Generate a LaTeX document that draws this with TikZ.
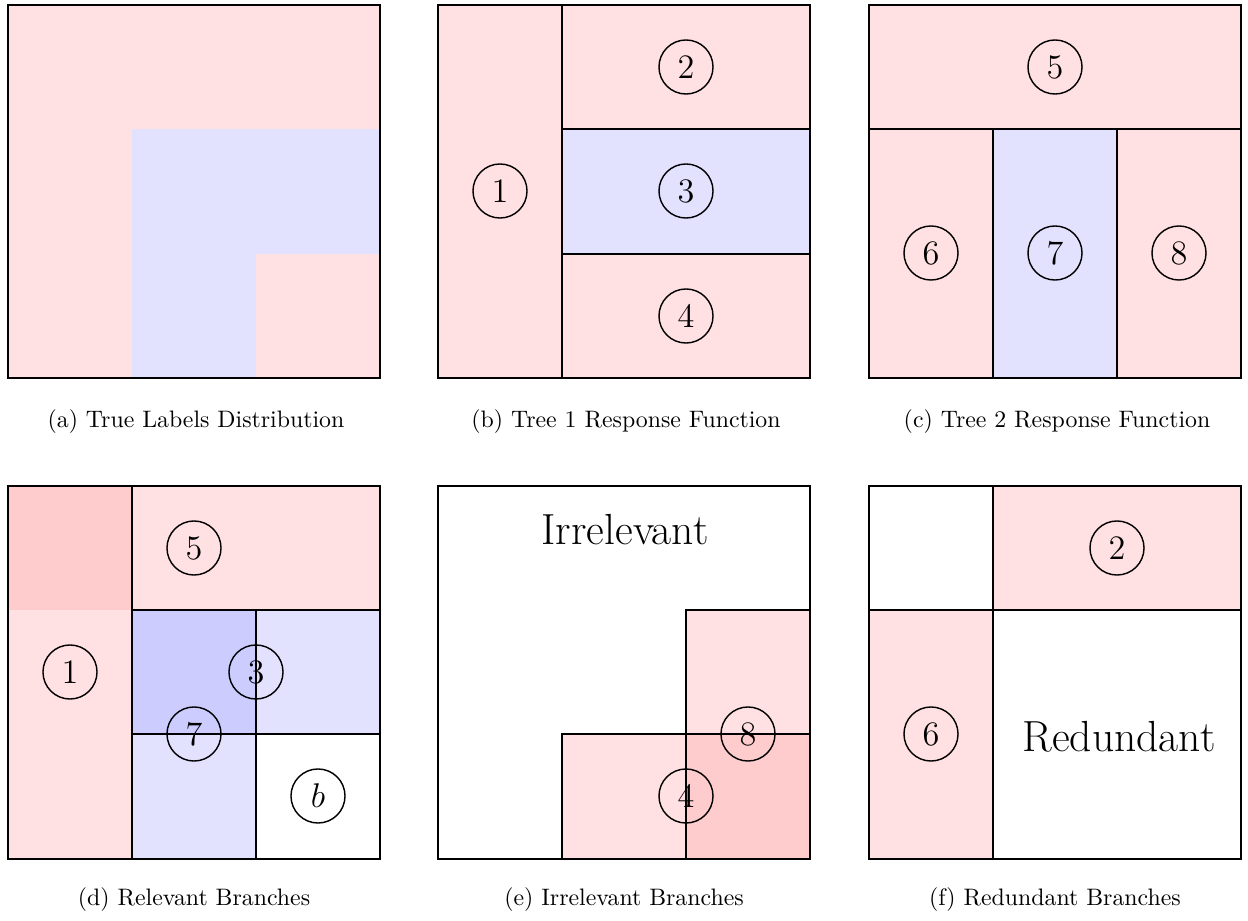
\documentclass[tikz,border=0pt]{standalone}
\begin{document}
\begin{tikzpicture}[x=0.42pt,y=-0.42pt,
  outerline/.style={draw=black,line width=0.9pt},
  innerline/.style={draw=black,line width=0.6pt},
  thinline/.style={draw=black,line width=0.45pt},
  num/.style={circle,draw=black,line width=0.6pt,minimum size=22.7pt,inner sep=0pt,font=\Large},
  captxt/.style={inner sep=0pt,font=\normalsize},
  bigtxt/.style={inner sep=0pt,font=\fontsize{18.3}{22}\selectfont}]
\definecolor{pinkf}{RGB}{255,225,228}
\definecolor{pinkd}{RGB}{255,204,206}
\definecolor{bluef}{RGB}{226,226,255}
\definecolor{blued}{RGB}{204,204,255}
\useasboundingbox (0,0) rectangle (1248,921);
% (a)
\fill[pinkf] (8,5) rectangle (380,378);
\fill[bluef] (132,129) rectangle (380,378);
\fill[pinkf] (256,254) rectangle (380,378);
\draw[outerline] (8,5) rectangle (380,378);
\node[captxt] (capa) at (196,422) {(a) True Labels Distribution};
% (b)
\fill[pinkf] (438,5) rectangle (810,378);
\fill[bluef] (562,129) rectangle (810,254);
\draw[innerline] (562,5) -- (562,378) (562,129) -- (810,129) (562,254) -- (810,254);
\draw[outerline] (438,5) rectangle (810,378);
\node[num] (b1) at (500,191) {1};
\node[num] (b2) at (686,67) {2};
\node[num] (b3) at (686,191) {3};
\node[num] (b4) at (686,316) {4};
\node[captxt] (capb) at (626,422) {(b) Tree 1 Response Function};
% (c)
\fill[pinkf] (869,5) rectangle (1241,378);
\fill[bluef] (993,129) rectangle (1117,378);
\draw[innerline] (869,129) -- (1241,129) (993,129) -- (993,378) (1117,129) -- (1117,378);
\draw[outerline] (869,5) rectangle (1241,378);
\node[num] (c5) at (1055,67) {5};
\node[num] (c6) at (931,253) {6};
\node[num] (c7) at (1055,253) {7};
\node[num] (c8) at (1179,253) {8};
\node[captxt] (capc) at (1057,422) {(c) Tree 2 Response Function};
% (d)
\fill[pinkf] (8,486) rectangle (380,610);
\fill[pinkf] (8,610) rectangle (132,859);
\fill[pinkd] (8,486) rectangle (132,610);
\fill[bluef] (132,610) rectangle (380,734);
\fill[bluef] (132,734) rectangle (256,859);
\fill[blued] (132,610) rectangle (256,734);
\draw[thinline] (132,486) -- (132,859) (132,610) -- (380,610) (256,610) -- (256,859) (132,734) -- (380,734);
\draw[outerline] (8,486) rectangle (380,859);
\node[num] (d1) at (70,672) {1};
\node[num] (d5) at (194,548) {5};
\node[num] (d3) at (256,672) {3};
\node[num] (d7) at (194,734) {7};
\node[num] (db) at (318,796) {$b$};
\node[captxt] (capd) at (194,900) {(d) Relevant Branches};
% (e)
\fill[pinkf] (562,734) rectangle (686,859);
\fill[pinkf] (686,610) rectangle (810,734);
\fill[pinkd] (686,734) rectangle (810,859);
\draw[thinline] (562,734) rectangle (810,859) (686,610) rectangle (810,859);
\draw[outerline] (438,486) rectangle (810,859);
\node[bigtxt] (irr) at (625,530) {Irrelevant};
\node[num] (e4) at (686,796) {4};
\node[num] (e8) at (748,734) {8};
\node[captxt] (cape) at (624,900) {(e) Irrelevant Branches};
% (f)
\fill[pinkf] (993,486) rectangle (1241,610);
\fill[pinkf] (869,610) rectangle (993,859);
\draw[thinline] (993,486) rectangle (1241,610) (869,610) rectangle (993,859);
\draw[outerline] (869,486) rectangle (1241,859);
\node[num] (f2) at (1117,548) {2};
\node[num] (f6) at (931,734) {6};
\node[bigtxt] (red) at (1119,737) {Redundant};
\node[captxt] (capf) at (1055,900) {(f) Redundant Branches};
\end{tikzpicture}
\end{document}
